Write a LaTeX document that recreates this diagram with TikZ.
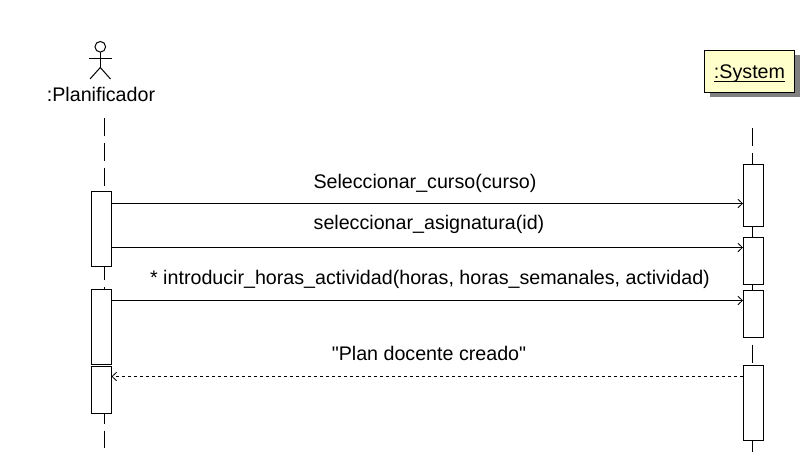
\documentclass[tikz,border=0pt]{standalone}
\usepackage{fontspec}
\setmainfont{Liberation Sans}
\newfontfamily\plainquotes{Liberation Sans}
\usetikzlibrary{positioning, shadows, arrows.meta}
\tikzset{
	every node/.style={font=\fontsize{14.75}{17}\selectfont, inner sep=0pt, outer sep=0pt},
	bar/.style={draw, line width=0.75pt, minimum width=15pt, anchor=north west},
	lifeline/.style={line width=0.75pt, dash pattern=on 13.5pt off 5.25pt},
	msg/.style={line width=0.75pt, -{Straight Barb[length=3.4pt,width=6.4pt,line width=0.6pt]}},
	ret/.style={msg, dash pattern=on 2.25pt off 2.25pt},
}
\begin{document}
\begin{tikzpicture}[x=0.75pt, y=-0.75pt, line width=0.75pt]
	\useasboundingbox (0,0) rectangle (812,452);
	% actor
	\node[draw, circle, minimum size=8pt, line width=0.75pt] (head) at (100.3,46.8) {};
	\coordinate (neck) at (100.3,58.5);
	\coordinate (hip) at (100.3,67.5);
	\coordinate (handl) at (89,58.5);
	\coordinate (handr) at (111.5,58.5);
	\coordinate (footl) at (90,79);
	\coordinate (footr) at (110.5,79);
	\draw (head) -- (hip);
	\draw (handl) -- (handr);
	\draw (footl) -- (hip) -- (footr);
	\node (plan) at (101,94.5) {:Planificador};
	% system
	\node[draw, fill={rgb,255:red,255;green,255;blue,204}, line width=0.75pt, minimum width=67.5pt, minimum height=31.5pt,
		drop shadow={shadow xshift=3.75pt, shadow yshift=-3.75pt, fill=gray, opacity=1}] (sys) at (749.5,71.5) {\raisebox{-5.6pt}[0pt][0pt]{\underline{\smash{:System}}}};
	% activation bars
	\node[bar, minimum height=56pt] (a1) at (91.5,191.5) {};
	\node[bar, minimum height=56.25pt] (a2) at (91.5,289.5) {};
	\node[bar, minimum height=35.25pt] (a3) at (91.5,366.5) {};
	\node[bar, minimum height=46.5pt] (s1) at (743,164.5) {};
	\node[bar, minimum height=35.25pt] (s2) at (743,237.5) {};
	\node[bar, minimum height=35.25pt] (s3) at (743,290.5) {};
	\node[bar, minimum height=56.25pt] (s4) at (743,365.5) {};
	% lifelines
	\coordinate (pl) at (104.5,118);
	\coordinate (pe) at (104.5,448);
	\coordinate (sl) at (752.5,128);
	\coordinate (se) at (752.5,452);
	\draw[lifeline] (pl) -- (pl |- a1.north);
	\draw[lifeline, dash phase=3pt] (pl |- a1.south) -- (pl |- a2.north);
	\draw[lifeline, dash phase=6pt] (pl |- a3.south) -- (pe);
	\draw[lifeline] (sl) -- (sl |- s1.north);
	\draw (sl |- s1.south) -- (sl |- s2.north);
	\draw (sl |- s2.south) -- (sl |- s3.north);
	\draw[lifeline, dash phase=13.5pt] (sl |- s3.south) -- (sl |- s4.north);
	\draw (sl |- s4.south) -- (se);
	% messages
	\foreach \from/\to/\y in {a1/s1/203.5, a1/s2/247.5, a2/s3/300.5}
		\draw[msg] (\from.east |- 0,\y) -- (\to.west |- 0,\y);
	\draw[ret] (s4.west |- 0,376.5) -- (a3.east |- 0,376.5);
	\node (m1) at (425,183) {Seleccionar\_curso(curso)};
	\node (m2) at (429,224.5) {seleccionar\_asignatura(id)};
	\node (m3) at (430,279) {* introducir\_horas\_actividad(horas, horas\_semanales, actividad)};
	\node (m4) at (429,353) {\plainquotes "Plan docente creado"};
\end{tikzpicture}
\end{document}
